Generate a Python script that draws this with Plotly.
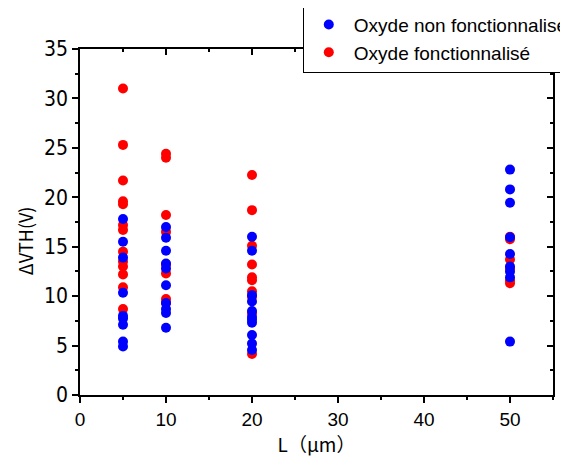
import plotly.graph_objects as go

# Channel lengths (µm)
L_values = [5, 10, 20, 50]

# ΔVTH (V) - Oxyde non fonctionnalisé
non_func_L5 = [17.8, 15.5, 13.9, 10.35, 8.0, 7.75, 7.1, 5.4, 4.9]
non_func_L10 = [17.0, 15.9, 14.6, 13.3, 12.8, 11.1, 9.3, 8.7, 8.3, 6.8]
non_func_L20 = [16.0, 14.6, 10.1, 9.45, 8.5, 7.9, 7.6, 7.3, 6.07, 5.2, 4.55]
non_func_L50 = [22.8, 20.8, 19.45, 15.95, 14.26, 13.0, 12.5, 11.9, 5.4]

# ΔVTH (V) - Oxyde fonctionnalisé
func_L5 = [31.0, 25.3, 21.7, 19.6, 19.3, 17.2, 16.7, 14.5, 13.5, 13.0, 12.2, 10.9, 8.7]
func_L10 = [24.4, 24.0, 18.2, 16.5, 13.2, 12.3, 9.7, 9.3]
func_L20 = [22.25, 18.7, 15.1, 13.2, 11.9, 11.6, 10.5, 9.95, 8.3, 4.15]
func_L50 = [16.0, 15.75, 13.7, 12.8, 11.6, 11.3]

non_func = [non_func_L5, non_func_L10, non_func_L20, non_func_L50]
func = [func_L5, func_L10, func_L20, func_L50]


def flatten(groups):
    xs, ys = [], []
    for L, vals in zip(L_values, groups):
        xs += [L] * len(vals)
        ys += vals
    return xs, ys


xf, yf = flatten(func)
xn, yn = flatten(non_func)

fig = go.Figure()
fig.add_trace(go.Scatter(x=xf, y=yf, mode="markers", name="Oxyde fonctionnalisé",
                         marker=dict(color="#ff0000", size=10)))
fig.add_trace(go.Scatter(x=xn, y=yn, mode="markers", name="Oxyde non fonctionnalisé",
                         marker=dict(color="#0000ff", size=10)))
# invisible trace to anchor mirror axes
fig.add_trace(go.Scatter(x=[0], y=[0], xaxis="x2", yaxis="y2", mode="markers",
                         marker=dict(opacity=0), showlegend=False, hoverinfo="skip"))

axis_font = dict(family="Liberation Sans, Arial, sans-serif", size=19, color="black")
common = dict(showgrid=False, zeroline=False, showline=True, linecolor="black", linewidth=1.5)

fig.update_layout(
    width=568, height=457,
    margin=dict(l=72, r=23, t=41, b=70, autoexpand=False),
    plot_bgcolor="white", paper_bgcolor="white",
    xaxis=dict(range=[0, 55], dtick=10, tick0=0, ticks="outside", ticklen=6, tickwidth=1.5,
               tickcolor="black", tickfont=axis_font,
               minor=dict(dtick=5, tick0=0, ticks="outside", ticklen=3, tickwidth=1.5, tickcolor="black"),
               title=dict(text="L（μm）", font=dict(family="Noto Sans CJK SC, sans-serif", size=19, color="black"),
                          standoff=6),
               **common),
    yaxis=dict(range=[0, 35], dtick=5, tick0=0, ticks="outside", ticklen=6, tickwidth=1.5,
               tickcolor="black", tickfont=dict(family="Liberation Sans Narrow, DejaVu Sans Condensed, Liberation Sans, sans-serif",
                                                size=21, color="black"),
               minor=dict(dtick=2.5, tick0=0, ticks="outside", ticklen=3, tickwidth=1.5, tickcolor="black"),
               **common),
    xaxis2=dict(range=[0, 55], overlaying="x", side="top", dtick=10, tick0=0, ticks="inside", ticklen=6,
                tickwidth=1.5, tickcolor="black", showticklabels=False,
                minor=dict(dtick=5, tick0=0, ticks="inside", ticklen=3, tickwidth=1.5, tickcolor="black"),
                **common),
    yaxis2=dict(range=[0, 35], overlaying="y", side="right", dtick=5, tick0=0, ticks="inside", ticklen=6,
                tickwidth=1.5, tickcolor="black", showticklabels=False,
                minor=dict(dtick=2.5, tick0=0, ticks="inside", ticklen=3, tickwidth=1.5, tickcolor="black"),
                **common),
    legend=dict(x=0.471, y=1.128, xanchor="left", yanchor="top", traceorder="reversed",
                bgcolor="white", bordercolor="black", borderwidth=1, itemwidth=40,
                font=dict(family="Liberation Sans, Arial, sans-serif", size=19, color="black"),
                tracegroupgap=0),
    showlegend=True,
    annotations=[dict(text="ΔVTH(V)", textangle=-90, xref="paper", yref="paper",
                      x=-0.116, y=0.445, xanchor="center", yanchor="middle", showarrow=False,
                      font=dict(family="Noto Sans CJK SC, sans-serif", size=18, color="black"))],
)

fig.write_html("out.html")
